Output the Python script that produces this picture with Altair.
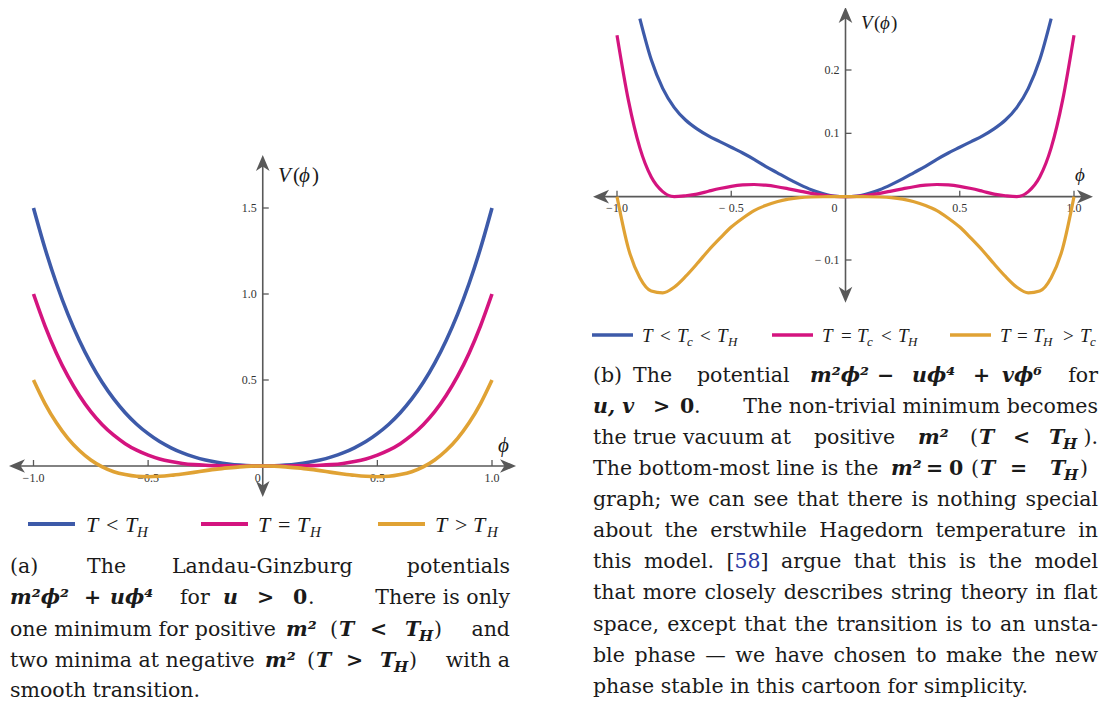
import altair as alt
import pandas as pd

# ---------------- data ----------------
PHI = [-1.0, -0.95, -0.9, -0.85, -0.8, -0.75, -0.7, -0.65, -0.6, -0.55, -0.5,
       -0.45, -0.4, -0.35, -0.3, -0.25, -0.2, -0.15, -0.1, -0.05, 0.0,
       0.05, 0.1, 0.15, 0.2, 0.25, 0.3, 0.35, 0.4, 0.45, 0.5,
       0.55, 0.6, 0.65, 0.7, 0.75, 0.8, 0.85, 0.9, 0.95, 1.0]

# panel (a)
A_BLUE = [1.5, 1.266, 1.061, 0.883, 0.730, 0.598, 0.485, 0.390, 0.310, 0.243, 0.188,
          0.142, 0.106, 0.076, 0.053, 0.035, 0.022, 0.012, 0.005, 0.001, 0.0,
          0.001, 0.005, 0.012, 0.022, 0.035, 0.053, 0.076, 0.106, 0.142, 0.188,
          0.243, 0.310, 0.390, 0.485, 0.598, 0.730, 0.883, 1.061, 1.266, 1.5]
A_PINK = [1.0, 0.815, 0.656, 0.522, 0.410, 0.316, 0.240, 0.179, 0.130, 0.092, 0.063,
          0.041, 0.026, 0.015, 0.008, 0.004, 0.002, 0.0005, 0.0001, 0.0, 0.0,
          0.0, 0.0001, 0.0005, 0.002, 0.004, 0.008, 0.015, 0.026, 0.041, 0.063,
          0.092, 0.130, 0.179, 0.240, 0.316, 0.410, 0.522, 0.656, 0.815, 1.0]
A_ORANGE = [0.5, 0.363, 0.251, 0.161, 0.090, 0.035, -0.005, -0.033, -0.050, -0.060, -0.0625,
            -0.060, -0.054, -0.046, -0.037, -0.027, -0.018, -0.011, -0.005, -0.001, 0.0,
            -0.001, -0.005, -0.011, -0.018, -0.027, -0.037, -0.046, -0.054, -0.060, -0.0625,
            -0.060, -0.050, -0.033, -0.005, 0.035, 0.090, 0.161, 0.251, 0.363, 0.5]

# panel (b)
B_BLUE = [None, None, 0.281, 0.216, 0.171, 0.141, 0.121, 0.107, 0.096, 0.087, 0.078,
          0.069, 0.059, 0.048, 0.038, 0.028, 0.019, 0.011, 0.005, 0.001, 0.0,
          0.001, 0.005, 0.011, 0.019, 0.028, 0.038, 0.048, 0.059, 0.069, 0.078,
          0.087, 0.096, 0.107, 0.121, 0.141, 0.171, 0.216, 0.281, None, None]
B_PINK = [0.255, 0.152, 0.077, 0.031, 0.008, 0.0001, 0.0015, 0.004, 0.0085, 0.0128, 0.0163,
          0.0185, 0.0192, 0.0181, 0.0157, 0.0124, 0.0088, 0.0053, 0.0024, 0.0006, 0.0,
          0.0006, 0.0024, 0.0053, 0.0088, 0.0124, 0.0157, 0.0181, 0.0192, 0.0185, 0.0163,
          0.0128, 0.0085, 0.004, 0.0015, 0.0001, 0.008, 0.031, 0.077, 0.152, 0.255]
B_ORANGE = [0.0, -0.082, -0.128, -0.149, -0.152, -0.143, -0.126, -0.106, -0.085, -0.066, -0.048,
            -0.034, -0.022, -0.014, -0.008, -0.004, -0.0016, -0.0005, -0.0001, 0.0, 0.0,
            0.0, -0.0001, -0.0005, -0.0016, -0.004, -0.008, -0.014, -0.022, -0.034, -0.048,
            -0.066, -0.085, -0.106, -0.126, -0.143, -0.152, -0.149, -0.128, -0.082, 0.0]

A_XTICKS = [-1.0, -0.5, 0.5, 1.0]
A_XLABELS = ["\u22121.0", "\u22120.5", "0.5", "1.0"]
A_YTICKS = [0.5, 1.0, 1.5]
A_YLABELS = ["0.5", "1.0", "1.5"]
B_XTICKS = [-1.0, -0.5, 0.5, 1.0]
B_XLABELS = ["\u22121.0", "\u2212 0.5", "0.5", "1.0"]
B_YTICKS = [-0.1, 0.1, 0.2]
B_YLABELS = ["\u2212 0.1", "0.1", "0.2"]

COLORS = ["#3d5aa9", "#d4147f", "#e0a234"]
AXIS = "#595959"
TXT = "#1a1a1a"
LINK = "#2b3aa3"
MARGIN = 8

ARROW_R = "M 1 0 L -1 -0.85 L -0.45 0 L -1 0.85 Z"
ARROW_L = "M -1 0 L 1 -0.85 L 0.45 0 L 1 0.85 Z"
ARROW_U = "M 0 -1 L -0.85 1 L 0 0.45 L 0.85 1 Z"
ARROW_D = "M 0 1 L -0.85 -1 L 0 -0.45 L 0.85 -1 Z"


def sc(domain, rng):
    return alt.Scale(domain=domain, range=[r - MARGIN for r in rng], nice=False, zero=False)


def panel(series, xs, ys, sw, ext, xt, xl, yt, yl, lab_dy, zero_dx):
    xl0, xr0, yb0, yt0 = ext
    X = lambda f: alt.X(f, scale=xs, axis=None)
    Y = lambda f: alt.Y(f, scale=ys, axis=None)
    layers = []
    layers.append(alt.Chart(pd.DataFrame({"a": [xl0], "b": [xr0], "z": [0.0]}))
                  .mark_rule(color=AXIS, strokeWidth=1.6)
                  .encode(x=X("a:Q"), x2="b:Q", y=Y("z:Q")))
    layers.append(alt.Chart(pd.DataFrame({"a": [yb0], "b": [yt0], "z": [0.0]}))
                  .mark_rule(color=AXIS, strokeWidth=1.6)
                  .encode(y=Y("a:Q"), y2="b:Q", x=X("z:Q")))
    layers.append(alt.Chart(pd.DataFrame({"t": xt, "z": [0.0] * len(xt)}))
                  .mark_rule(color=AXIS, strokeWidth=1.3, y2Offset=-6)
                  .encode(x=X("t:Q"), y=Y("z:Q"), y2="z:Q"))
    layers.append(alt.Chart(pd.DataFrame({"t": yt, "z": [0.0] * len(yt)}))
                  .mark_rule(color=AXIS, strokeWidth=1.3, x2Offset=6)
                  .encode(y=Y("t:Q"), x=X("z:Q"), x2="z:Q"))
    layers.append(alt.Chart(pd.DataFrame({"t": xt, "l": xl, "z": [0.0] * len(xt)}))
                  .mark_text(font="Liberation Serif", fontSize=12, color="#333", dy=lab_dy, baseline="middle")
                  .encode(x=X("t:Q"), y=Y("z:Q"), text="l:N"))
    layers.append(alt.Chart(pd.DataFrame({"t": [0.0], "l": ["0"]}))
                  .mark_text(font="Liberation Serif", fontSize=12, color="#333", dy=lab_dy, dx=zero_dx, baseline="middle")
                  .encode(x=X("t:Q"), y=Y("t:Q"), text="l:N"))
    layers.append(alt.Chart(pd.DataFrame({"t": yt, "l": yl, "z": [0.0] * len(yt)}))
                  .mark_text(font="Liberation Serif", fontSize=12, color="#333", dx=-6, align="right", baseline="middle")
                  .encode(y=Y("t:Q"), x=X("z:Q"), text="l:N"))
    rows = []
    for k, (vals, col) in enumerate(zip(series, COLORS)):
        for p, v in zip(PHI, vals):
            if v is not None:
                rows.append({"phi": p, "V": v, "s": k, "c": col})
    layers.append(alt.Chart(pd.DataFrame(rows))
                  .mark_line(strokeWidth=sw, interpolate="monotone", strokeCap="butt")
                  .encode(x=X("phi:Q"), y=Y("V:Q"), detail="s:N", color=alt.Color("c:N", scale=None)))
    for shape, ax, ay in [(ARROW_L, xl0, 0.0), (ARROW_R, xr0, 0.0), (ARROW_D, 0.0, yb0), (ARROW_U, 0.0, yt0)]:
        layers.append(alt.Chart(pd.DataFrame({"x": [ax], "y": [ay]}))
                      .mark_point(shape=shape, size=256, filled=True, color=AXIS, opacity=1, strokeWidth=0)
                      .encode(x=X("x:Q"), y=Y("y:Q")))
    return alt.layer(*layers)


xa = sc([-1, 1], [33.5, 492])
ya = sc([0, 1.5], [466, 208])
xb = sc([-1, 1], [617, 1074])
yb = sc([-0.1, 0.2], [260, 70])

panel_a = panel([A_BLUE, A_PINK, A_ORANGE], xa, ya, 3.6, (-1.072, 1.070, -0.134, 1.762),
                A_XTICKS, A_XLABELS, A_YTICKS, A_YLABELS, 12, -5)
panel_b = panel([B_BLUE, B_PINK, B_ORANGE], xb, yb, 3.2, (-1.070, 1.048, -0.155, 0.287),
                B_XTICKS, B_XLABELS, B_YTICKS, B_YLABELS, 11, -11)

# ---------------- legends (pixel layout) ----------------
LEG_LINES = [
    (28, 75, 524, 0, 4), (201, 248, 524, 1, 4), (378, 425, 524, 2, 4),
    (592, 633, 335, 0, 3.5), (772, 813, 335, 1, 3.5), (950, 991, 335, 2, 3.5),
]
leg_df = pd.DataFrame([{"a": a - MARGIN, "b": b - MARGIN, "y": y - MARGIN, "c": COLORS[i], "w": w}
                       for a, b, y, i, w in LEG_LINES])
legend_lines = alt.Chart(leg_df).mark_rule(strokeCap="butt").encode(
    x=alt.X("a:Q", scale=None), x2="b:Q", y=alt.Y("y:Q", scale=None),
    color=alt.Color("c:N", scale=None), strokeWidth=alt.StrokeWidth("w:Q", scale=None))

SEGMENTS = []
SEGMENTS += [("T", 86, 532, "mi22"), ("<", 106, 532, "mr22"), ("T", 125, 532, "mi22"), ("H", 137, 537, "ms22"),
             ("T", 258, 532, "mi22"), ("=", 278, 532, "mr22"), ("T", 297, 532, "mi22"), ("H", 310, 537, "ms22"),
             ("T", 435, 532, "mi22"), (">", 455, 532, "mr22"), ("T", 473, 532, "mi22"), ("H", 487, 537, "ms22")]
SEGMENTS += [("T", 642, 342, "mi19"), ("<", 660, 342, "mr19"), ("T", 677, 342, "mi19"), ("c", 687, 346, "ms19"),
             ("<", 700, 342, "mr19"), ("T", 717, 342, "mi19"), ("H", 728, 346, "ms19"),
             ("T", 822, 342, "mi19"), ("=", 841, 342, "mr19"), ("T", 857, 342, "mi19"), ("c", 867, 346, "ms19"),
             ("<", 881, 342, "mr19"), ("T", 898, 342, "mi19"), ("H", 908, 346, "ms19"),
             ("T", 1000, 342, "mi19"), ("=", 1017, 342, "mr19"), ("T", 1033, 342, "mi19"), ("H", 1043, 346, "ms19"),
             (">", 1063, 342, "mr19"), ("T", 1080, 342, "mi19"), ("c", 1090, 346, "ms19")]
SEGMENTS += [("V", 278, 182, "mi21"), ("(", 293, 182, "mr21"), ("\u03d5", 299, 182, "mi21"), (")", 312, 182, "mr21"),
             ("\u03d5", 498, 452, "mi21"),
             ("V", 861, 29, "mi19"), ("(", 874, 29, "mr19"), ("\u03d5", 880, 29, "mi19"), (")", 891, 29, "mr19"),
             ("\u03d5", 1075, 181, "mi19")]

# ---------------- captions ----------------
CAPS = 20.5
WID = {' ': .318, 'a': .596, 'b': .640, 'c': .561, 'd': .640, 'e': .592, 'f': .371, 'g': .640,
       'h': .644, 'i': .320, 'j': .313, 'k': .605, 'l': .320, 'm': .948, 'n': .644, 'o': .602,
       'p': .640, 'q': .640, 'r': .478, 's': .513, 't': .402, 'u': .644, 'v': .566, 'w': .857,
       'x': .565, 'y': .566, 'z': .526, '.': .318, ',': .318, ';': .337, '-': .338,
       '\u2014': 1.0, '[': .391, ']': .391, 'H': .872, '5': .636, '8': .636}


def tw(s):
    return sum(WID.get(ch, 0.6) for ch in s) * CAPS


def justify(line, x0, x1, y, link="58"):
    words = line.split(" ")
    gap = (x1 - x0 - sum(tw(w) for w in words)) / (len(words) - 1)
    out, x = [], x0
    for w in words:
        if link in w:
            pre, post = w.split(link)
            out.append((pre, x, y, "r", "left"))
            out.append((link, x + tw(pre), y, "ln", "left"))
            out.append((post, x + tw(pre) + tw(link), y, "r", "left"))
        else:
            out.append((w, x, y, "r", "left"))
        x += tw(w) + gap
    return out


CAP = []
ya1, ya2, ya3, ya4, ya5 = 573, 604, 635.5, 666.5, 697
CAP += [("(a)", 10, ya1, "r", "left"), ("The", 87, ya1, "r", "left"),
        ("Landau-Ginzburg", 172, ya1, "r", "left"), ("potentials", 510, ya1, "r", "right")]
CAP += [("m\u00b2\u03d5\u00b2", 10, ya2, "bi", "left"), ("+", 84, ya2, "b", "left"),
        ("u\u03d5\u2074", 110, ya2, "bi", "left"), ("for", 180, ya2, "r", "left"),
        ("u", 223, ya2, "bi", "left"), (">", 257, ya2, "b", "left"), ("0", 293, ya2, "b", "left"),
        (".", 308, ya2, "r", "left"), ("There is only", 510, ya2, "r", "right")]
CAP += [("one minimum for positive", 10, ya3, "r", "left"), ("m\u00b2", 286, ya3, "bi", "left"),
        ("(", 330, ya3, "r", "left"), ("T", 339, ya3, "bi", "left"), ("<", 370, ya3, "b", "left"),
        ("T", 405, ya3, "bi", "left"), ("H", 419, ya3 + 5, "bs", "left"), (")", 434, ya3, "r", "left"),
        ("and", 510, ya3, "r", "right")]
CAP += [("two minima at negative", 10, ya4, "r", "left"), ("m\u00b2", 265, ya4, "bi", "left"),
        ("(", 307, ya4, "r", "left"), ("T", 316, ya4, "bi", "left"), (">", 346, ya4, "b", "left"),
        ("T", 380, ya4, "bi", "left"), ("H", 394, ya4 + 5, "bs", "left"), (")", 409, ya4, "r", "left"),
        ("with a", 510, ya4, "r", "right")]
CAP += [("smooth transition.", 10, ya5, "r", "left")]

yb_ = [381.7, 412.8, 443.9, 475.0, 506.1, 537.2, 568.3, 599.4, 630.5, 661.6, 692.7]
L, R = 593, 1098
CAP += [("(b)", 593, yb_[0], "r", "left"), ("The", 633, yb_[0], "r", "left"),
        ("potential", 697, yb_[0], "r", "left"), ("m\u00b2\u03d5\u00b2", 810, yb_[0], "bi", "left"),
        ("\u2212", 877, yb_[0], "b", "left"), ("u\u03d5\u2074", 912, yb_[0], "bi", "left"),
        ("+", 973, yb_[0], "b", "left"), ("v\u03d5\u2076", 1002, yb_[0], "bi", "left"),
        ("for", R, yb_[0], "r", "right")]
CAP += [("u, v", 593, yb_[1], "bi", "left"), (">", 653, yb_[1], "b", "left"), ("0", 680, yb_[1], "b", "left"),
        (".", 694, yb_[1], "r", "left"), ("The non-trivial minimum becomes", R, yb_[1], "r", "right")]
CAP += [("the true vacuum at", 593, yb_[2], "r", "left"), ("positive", 814, yb_[2], "r", "left"),
        ("m\u00b2", 918, yb_[2], "bi", "left"), ("(", 970, yb_[2], "r", "left"),
        ("T", 979, yb_[2], "bi", "left"), ("<", 1013, yb_[2], "b", "left"),
        ("T", 1049, yb_[2], "bi", "left"), ("H", 1063, yb_[2] + 5, "bs", "left"),
        (").", R, yb_[2], "r", "right")]
CAP += [("The bottom-most line is the", 593, yb_[3], "r", "left"), ("m\u00b2", 891, yb_[3], "bi", "left"),
        ("=", 926, yb_[3], "b", "left"), ("0", 949, yb_[3], "b", "left"), ("(", 971, yb_[3], "r", "left"),
        ("T", 980, yb_[3], "bi", "left"), ("=", 1010, yb_[3], "b", "left"),
        ("T", 1050, yb_[3], "bi", "left"), ("H", 1064, yb_[3] + 5, "bs", "left"),
        (")", 1088, yb_[3], "r", "right")]
CAP += justify("graph; we can see that there is nothing special", L, R, yb_[4])
CAP += justify("about the erstwhile Hagedorn temperature in", L, R, yb_[5])
CAP += justify("this model. [58] argue that this is the model", L, R, yb_[6])
CAP += justify("that more closely describes string theory in flat", L, R, yb_[7])
CAP += justify("space, except that the transition is to an unsta-", L, R, yb_[8])
CAP += justify("ble phase \u2014 we have chosen to make the new", L, R, yb_[9])
CAP += [("phase stable in this cartoon for simplicity.", 593, yb_[10], "r", "left")]

CAPF = "DejaVu Serif"
KIND = {
    "r": (CAPF, "normal", "normal", CAPS, TXT),
    "b": (CAPF, "bold", "normal", CAPS, TXT),
    "bi": (CAPF, "bold", "italic", CAPS, TXT),
    "bs": (CAPF, "bold", "italic", 15, TXT),
    "ln": (CAPF, "normal", "normal", CAPS, LINK),
}
for sz in (19, 21, 22):
    KIND["mi%d" % sz] = ("Liberation Serif", "normal", "italic", sz, TXT)
    KIND["mr%d" % sz] = ("Liberation Serif", "normal", "normal", sz, TXT)
    KIND["ms%d" % sz] = ("Liberation Serif", "normal", "italic", round(sz * 0.68), TXT)

all_rows = [(t, x, y, k, "left") for t, x, y, k in SEGMENTS] + CAP

groups = {}
for t, x, y, k, al in all_rows:
    if t == "":
        continue
    f, w, s, size, col = KIND[k]
    groups.setdefault((f, w, s, al), []).append(
        {"t": t, "px": x - MARGIN, "py": y - MARGIN, "fs": size, "col": col})

text_layers = []
for (f, w, s, al), rows in groups.items():
    text_layers.append(
        alt.Chart(pd.DataFrame(rows)).mark_text(font=f, fontWeight=w, fontStyle=s, align=al,
                                                baseline="alphabetic").encode(
            x=alt.X("px:Q", scale=None), y=alt.Y("py:Q", scale=None), text="t:N",
            size=alt.Size("fs:Q", scale=None), color=alt.Color("col:N", scale=None)))

chart = alt.layer(panel_a, panel_b, legend_lines, *text_layers).resolve_scale(
    x="independent", y="independent"
).properties(
    width=1091, height=693, padding=0, autosize=alt.AutoSizeParams(type="none"),
    background="white"
).configure_view(stroke=None)

chart.save("out.html", embed_options={"renderer": "svg", "actions": False})
